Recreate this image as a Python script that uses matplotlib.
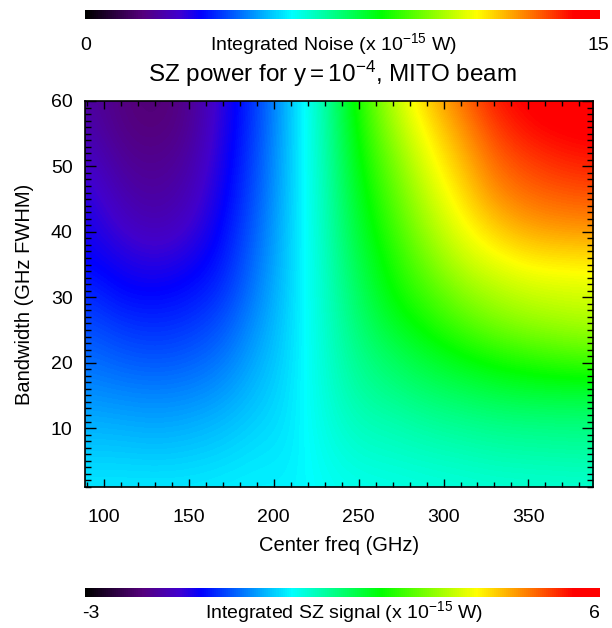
import numpy as np
import matplotlib.pyplot as plt
from matplotlib.colors import LinearSegmentedColormap, Normalize
from matplotlib.cm import ScalarMappable
from matplotlib.ticker import MultipleLocator

plt.rcParams["font.family"] = ["Liberation Sans", "DejaVu Sans"]
plt.rcParams["mathtext.fontset"] = "custom"
plt.rcParams["mathtext.rm"] = "Liberation Sans"
plt.rcParams["mathtext.it"] = "Liberation Sans:italic"
plt.rcParams["mathtext.default"] = "regular"

# grid of band centres and widths (GHz)
freq_ghz = [90, 110, 130, 150, 170, 190, 210, 230, 250, 270, 290, 310, 330, 350, 370, 390]
bandwidth_ghz = [1, 6, 11, 16, 21, 26, 31, 36, 41, 46, 51, 56, 61]

# integrated SZ signal (x 1e-15 W), one row per bandwidth
sz_signal = [
    [0.48, 0.48, 0.48, 0.48, 0.51, 0.54, 0.52, 0.66, 0.72, 0.75, 0.79, 0.82, 0.85, 0.86, 0.87, 0.88],
    [0.29, 0.29, 0.26, 0.29, 0.35, 0.45, 0.48, 0.72, 0.88, 0.92, 0.98, 1.03, 1.09, 1.12, 1.14, 1.16],
    [0.11, 0.08, 0.04, 0.08, 0.17, 0.32, 0.45, 0.79, 1.04, 1.10, 1.22, 1.30, 1.37, 1.40, 1.42, 1.43],
    [-0.11, -0.17, -0.20, -0.17, -0.05, 0.20, 0.42, 0.85, 1.20, 1.37, 1.55, 1.68, 1.82, 1.90, 1.93, 1.93],
    [-0.30, -0.42, -0.48, -0.42, -0.27, 0.08, 0.39, 0.88, 1.34, 1.62, 1.90, 2.15, 2.35, 2.50, 2.62, 2.70],
    [-0.50, -0.67, -0.73, -0.67, -0.48, -0.05, 0.37, 0.91, 1.48, 1.95, 2.30, 2.65, 2.95, 3.12, 3.22, 3.29],
    [-0.72, -0.95, -0.99, -0.90, -0.70, -0.17, 0.35, 0.94, 1.62, 2.21, 2.63, 3.09, 3.35, 3.52, 3.58, 3.61],
    [-0.97, -1.15, -1.29, -1.15, -0.85, -0.27, 0.33, 0.97, 1.76, 2.37, 2.96, 3.48, 3.77, 3.98, 4.02, 4.04],
    [-1.08, -1.41, -1.59, -1.41, -0.95, -0.36, 0.32, 1.00, 1.90, 2.57, 3.25, 3.77, 4.22, 4.50, 4.60, 4.63],
    [-1.20, -1.62, -1.77, -1.59, -1.05, -0.45, 0.30, 1.03, 2.02, 2.76, 3.48, 4.04, 4.63, 4.88, 4.98, 5.03],
    [-1.40, -1.80, -1.90, -1.73, -1.12, -0.51, 0.29, 1.06, 2.15, 2.96, 3.71, 4.28, 4.90, 5.16, 5.33, 5.40],
    [-1.60, -1.94, -2.04, -1.87, -1.18, -0.57, 0.27, 1.09, 2.28, 3.22, 3.94, 4.56, 5.16, 5.50, 5.60, 5.65],
    [-1.70, -1.97, -2.10, -1.90, -1.22, -0.60, 0.26, 1.12, 2.40, 3.42, 4.22, 4.83, 5.45, 5.62, 5.72, 5.80],
]

signal_range = (-3, 6)
noise_range = (0, 15)

# black -> purple -> blue -> cyan -> green -> yellow -> orange -> red
stops = [
    (0.00, (0, 0, 0)),
    (0.11, (85, 0, 125)),
    (0.18, (65, 0, 205)),
    (0.225, (0, 0, 255)),
    (0.40, (0, 255, 255)),
    (0.575, (0, 255, 0)),
    (0.76, (255, 255, 0)),
    (0.87, (255, 110, 0)),
    (0.95, (255, 0, 0)),
    (1.00, (255, 0, 0)),
]
cmap = LinearSegmentedColormap.from_list(
    "rainbow_idl", [(p, tuple(c / 255 for c in rgb)) for p, rgb in stops], N=256)

fig = plt.figure(figsize=(6.12, 6.28), dpi=100)
ax = fig.add_axes([0.1389, 0.2245, 0.8301, 0.6147])

df = freq_ghz[1] - freq_ghz[0]
db = bandwidth_ghz[1] - bandwidth_ghz[0]
extent = [freq_ghz[0] - df / 2, freq_ghz[-1] + df / 2,
          bandwidth_ghz[0] - db / 2, bandwidth_ghz[-1] + db / 2]
im = ax.imshow(np.array(sz_signal), origin="lower", extent=extent, aspect="auto",
               cmap=cmap, vmin=signal_range[0], vmax=signal_range[1],
               interpolation="bicubic", interpolation_stage="data")

ax.set_xlim(89, 388)
ax.set_ylim(1, 60)
ax.set_xticks([100, 150, 200, 250, 300, 350])
ax.set_yticks([10, 20, 30, 40, 50, 60])
ax.xaxis.set_minor_locator(MultipleLocator(10))
ax.yaxis.set_minor_locator(MultipleLocator(1))
ax.tick_params(which="both", direction="in", top=True, right=True, width=1.0,
               color="black", labelsize=14)
ax.tick_params(axis="x", which="major", length=6, pad=16)
ax.tick_params(axis="x", which="minor", length=3.5)
ax.tick_params(axis="y", which="major", length=8, pad=9)
ax.tick_params(axis="y", which="minor", length=4.5)
for s in ax.spines.values():
    s.set_linewidth(1.2)

ax.set_xlabel("Center freq (GHz)", fontsize=14.5, labelpad=7)
ax.set_ylabel("Bandwidth (GHz FWHM)", fontsize=14.5, labelpad=12)

fig.text(0.544, 0.869, r"SZ power for y$=$10$^{-4}$, MITO beam",
         fontsize=17.5, ha="center", va="baseline")

# noise colour bar on top
cax_top = fig.add_axes([0.1397, 0.9697, 0.841, 0.0143])
cb_top = fig.colorbar(ScalarMappable(norm=Normalize(*noise_range), cmap=cmap),
                      cax=cax_top, orientation="horizontal")
cb_top.set_ticks([])
cb_top.outline.set_visible(False)
fig.text(0.1405, 0.921, f"{noise_range[0]}", fontsize=14, ha="center", va="baseline")
fig.text(0.977, 0.921, f"{noise_range[1]}", fontsize=14, ha="center", va="baseline")
fig.text(0.544, 0.921, r"Integrated Noise (x 10$^{-15}$ W)", fontsize=14,
         ha="center", va="baseline")

# SZ signal colour bar at the bottom
cax_bot = fig.add_axes([0.1397, 0.0489, 0.841, 0.0150])
cb_bot = fig.colorbar(im, cax=cax_bot, orientation="horizontal")
cb_bot.set_ticks([])
cb_bot.outline.set_visible(False)
fig.text(0.148, 0.016, f"{signal_range[0]}", fontsize=14, ha="center", va="baseline")
fig.text(0.972, 0.016, f"{signal_range[1]}", fontsize=14, ha="center", va="baseline")
fig.text(0.563, 0.016, r"Integrated SZ signal (x 10$^{-15}$ W)", fontsize=14,
         ha="center", va="baseline")

fig.savefig("out.png", dpi=100)
